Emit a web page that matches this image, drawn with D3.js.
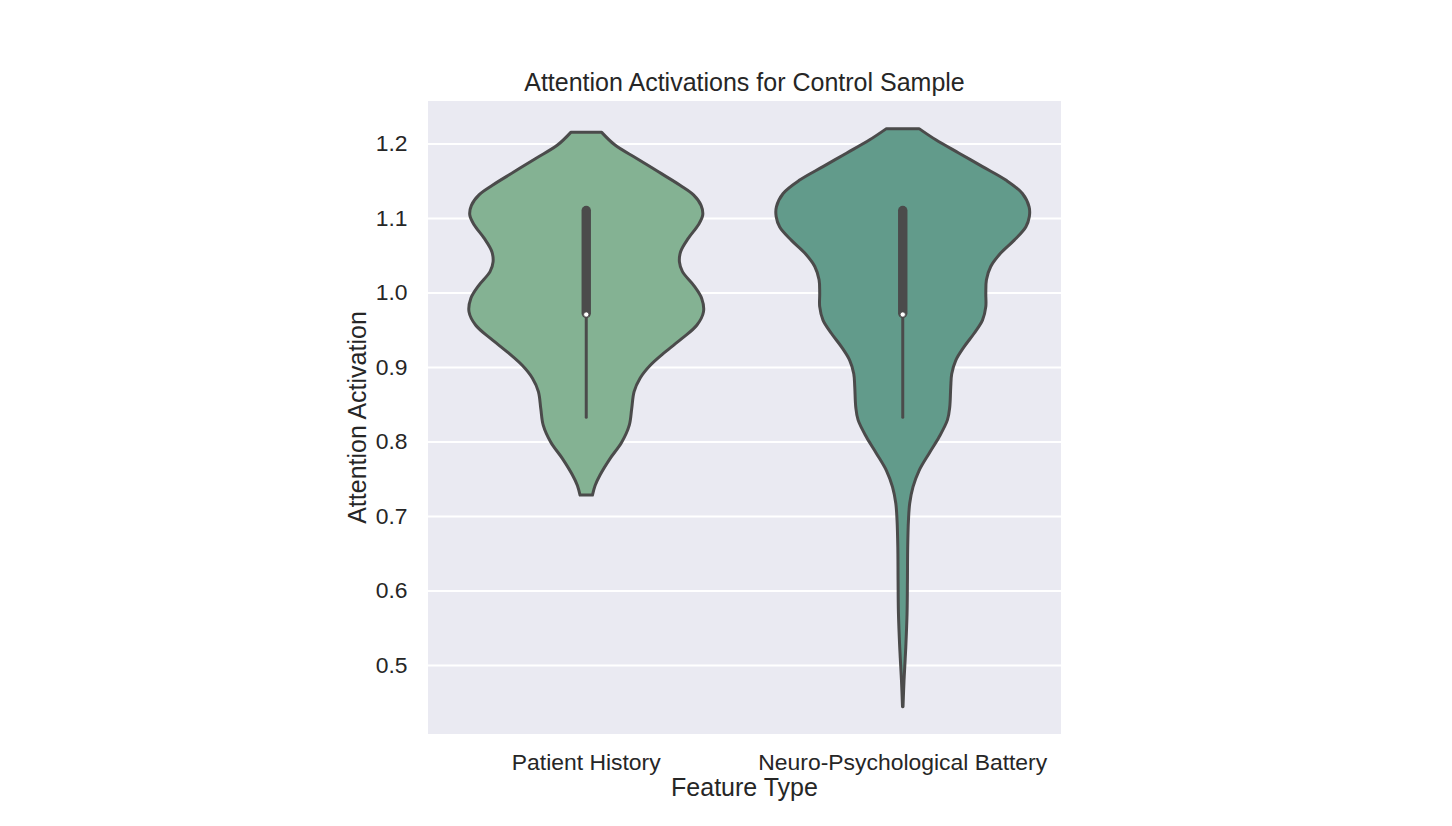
<!DOCTYPE html>
<html>
<head>
<meta charset="utf-8">
<script src="https://cdn.jsdelivr.net/npm/d3@7"></script>
<style>
  body { margin: 0; background: #fff; }
  text { font-family: "Liberation Sans", Arial, sans-serif; fill: #262626; }
</style>
</head>
<body>
<div id="chart"></div>
<script>
// categories and tick values
const categories = ["Patient History", "Neuro-Psychological Battery"];
const yTicks = [0.5, 0.6, 0.7, 0.8, 0.9, 1.0, 1.1, 1.2];
const fills = ["#84b293", "#629b8b"];

// kde outline of each violin (level, relative density)
const phLevels  = [1.215, 1.198, 1.180, 1.162, 1.144, 1.131, 1.117, 1.104, 1.091, 1.073, 1.055, 1.041,
                   1.028, 1.010, 0.992, 0.974, 0.956, 0.938, 0.920, 0.902, 0.885, 0.867, 0.844,
                   0.822, 0.799, 0.777, 0.755, 0.741, 0.728];
const phDensity = [0.122, 0.227, 0.399, 0.570, 0.741, 0.847, 0.907, 0.920, 0.886, 0.807, 0.746, 0.736,
                   0.760, 0.847, 0.912, 0.926, 0.873, 0.754, 0.622, 0.504, 0.425, 0.378, 0.359,
                   0.340, 0.280, 0.188, 0.109, 0.070, 0.049];

const npbLevels  = [1.220, 1.205, 1.187, 1.169, 1.151, 1.133, 1.115, 1.102, 1.088, 1.070, 1.053, 1.035,
                    1.017, 0.999, 0.981, 0.963, 0.945, 0.927, 0.909, 0.891, 0.873, 0.846, 0.829,
                    0.806, 0.784, 0.761, 0.739, 0.717, 0.694, 0.658, 0.614, 0.569, 0.524, 0.479, 0.444];
const npbDensity = [0.129, 0.261, 0.445, 0.630, 0.814, 0.945, 0.998, 1.000, 0.972, 0.879, 0.774, 0.695,
                    0.661, 0.656, 0.656, 0.630, 0.563, 0.484, 0.419, 0.387, 0.379, 0.371, 0.353,
                    0.287, 0.208, 0.129, 0.081, 0.055, 0.045, 0.039, 0.037, 0.034, 0.024, 0.010, 0.002];

// inner box stats per category
const boxQ1 = [0.972, 0.972];
const boxMedian = [0.9705, 0.9705];
const boxQ3 = [1.110, 1.110];
const whiskerLow = [0.8325, 0.8325];

const levels = [phLevels, npbLevels];
const densities = [phDensity, npbDensity];

const W = 1452, H = 826;
const margin = { top: 101, right: 391, bottom: 92, left: 428 };
const width = W - margin.left - margin.right;
const height = H - margin.top - margin.bottom;
const gray = "#4b4b4b";

const svg = d3.select("#chart")
  .append("svg")
    .attr("width", W)
    .attr("height", H);

const g = svg.append("g")
  .attr("transform", `translate(${margin.left},${margin.top})`);

// scales
const x = d3.scaleBand()
  .domain(categories)
  .range([0, width])
  .padding(0);

const y = d3.scaleLinear()
  .domain([0.4073, 1.2571])
  .range([height, 0]);

const w = d3.scaleLinear()
  .domain([0, 1])
  .range([0, x.bandwidth() * 0.4]);

// background
g.append("rect")
  .attr("width", width)
  .attr("height", height)
  .attr("fill", "#eaeaf2");

// y axis + grid
const yAxis = g.append("g")
  .call(d3.axisLeft(y)
    .tickValues(yTicks)
    .tickFormat(d3.format(".1f"))
    .tickSize(-width)
    .tickPadding(20.5));
yAxis.select(".domain").remove();
yAxis.selectAll("line")
  .attr("stroke", "#fff")
  .attr("stroke-width", 2);
yAxis.selectAll("text")
  .style("font-size", "22.9px")
  .attr("fill", "#262626");

// x axis
const xAxis = g.append("g")
  .attr("transform", `translate(0,${height})`)
  .call(d3.axisBottom(x).tickSize(0).tickPadding(19.4));
xAxis.select(".domain").remove();
xAxis.selectAll("text")
  .style("font-size", "22.9px")
  .attr("fill", "#262626");

// violins
categories.forEach((cat, i) => {
  const cx = x(cat) + x.bandwidth() / 2;
  const pts = levels[i].map((v, j) => ({ v: v, d: densities[i][j] }));

  const area = d3.area()
    .y(d => y(d.v))
    .x0(d => cx - w(d.d))
    .x1(d => cx + w(d.d))
    .curve(d3.curveCatmullRom.alpha(0.5));

  g.append("path")
    .datum(pts)
    .attr("d", area)
    .attr("fill", fills[i])
    .attr("stroke", gray)
    .attr("stroke-width", 3)
    .attr("stroke-linejoin", "round");

  // whisker
  g.append("line")
    .attr("x1", cx).attr("x2", cx)
    .attr("y1", y(boxQ1[i])).attr("y2", y(whiskerLow[i]))
    .attr("stroke", gray)
    .attr("stroke-width", 3)
    .attr("stroke-linecap", "round");

  // box
  g.append("line")
    .attr("x1", cx).attr("x2", cx)
    .attr("y1", y(boxQ1[i])).attr("y2", y(boxQ3[i]))
    .attr("stroke", gray)
    .attr("stroke-width", 9.4)
    .attr("stroke-linecap", "round");

  // median
  g.append("circle")
    .attr("cx", cx)
    .attr("cy", y(boxMedian[i]))
    .attr("r", 2.6)
    .attr("fill", "#fff")
    .attr("stroke", gray)
    .attr("stroke-width", 0.8);
});

// title
svg.append("text")
  .attr("x", margin.left + width / 2)
  .attr("y", 91.3)
  .attr("text-anchor", "middle")
  .style("font-size", "25px")
  .text("Attention Activations for Control Sample");

// axis labels
svg.append("text")
  .attr("x", margin.left + width / 2)
  .attr("y", 796.2)
  .attr("text-anchor", "middle")
  .style("font-size", "25px")
  .text("Feature Type");

svg.append("text")
  .attr("transform", `translate(366.3,${margin.top + height / 2}) rotate(-90)`)
  .attr("text-anchor", "middle")
  .style("font-size", "25px")
  .text("Attention Activation");
</script>
</body>
</html>
